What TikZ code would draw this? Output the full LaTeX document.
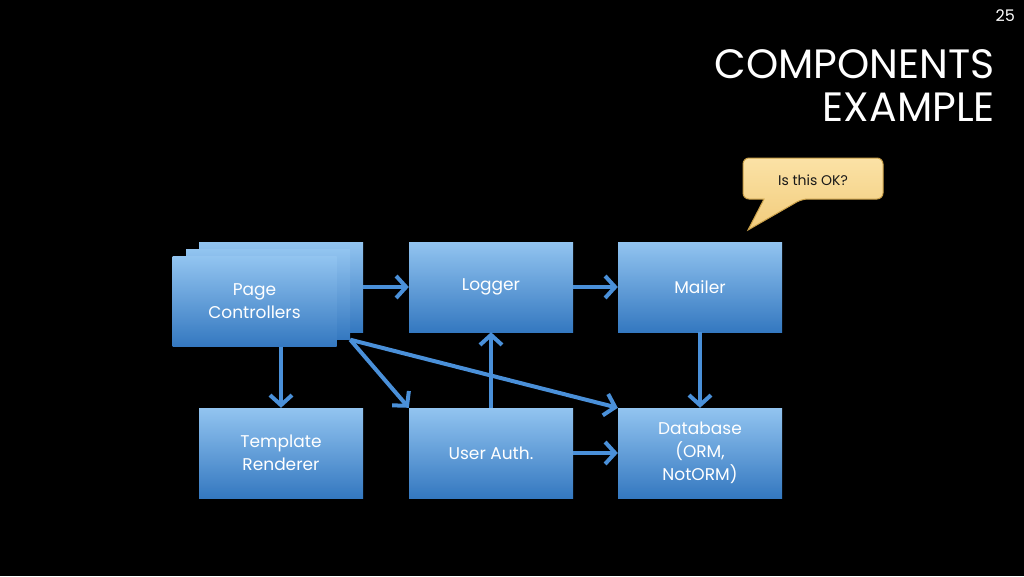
\documentclass[tikz,border=0pt]{standalone}
\usepackage{fontspec}
\setmainfont{Poppins}
\usetikzlibrary{arrows.meta}
\definecolor{arr}{HTML}{4A90D9}
\definecolor{boxtop}{HTML}{92C4F0}
\definecolor{boxbot}{HTML}{3478C0}
\definecolor{calltop}{HTML}{FBE2A6}
\definecolor{callbot}{HTML}{F2CC7C}
\definecolor{callbd}{HTML}{C9A04A}
\tikzset{
  box/.style={minimum width=164pt, minimum height=90pt, inner sep=0pt,
    top color=boxtop, bottom color=boxbot, text=white, align=center,
    font=\fontsize{17}{23}\selectfont},
  conn/.style={draw=arr, line width=4pt,
    -{Straight Barb[length=10pt,width=22pt,line width=4pt]}},
}
\begin{document}
\begin{tikzpicture}[x=1pt,y=-1pt]
\fill[black] (0,0) rectangle (1024,576);
\useasboundingbox (0,0) rectangle (1024,576);

% title
\node[anchor=base east, text=white, font=\fontsize{16}{18}\selectfont, inner sep=0pt] (num) at (1015,21) {25};
\node[anchor=base east, text=white, font=\fontsize{41}{46}\selectfont, inner sep=0pt] (t1) at (995,78) {COMPONENTS};
\node[anchor=base east, text=white, font=\fontsize{41}{46}\selectfont, inner sep=0pt] (t2) at (995,121) {EXAMPLE};

% callout
\path[draw=callbd, line width=1pt, top color=calltop, bottom color=callbot]
  (813,158) [rounded corners=6pt] -- (883,158) -- (883,199) -- (802,199)
  [sharp corners] -- (748,230) -- (764,199)
  [rounded corners=6pt] -- (743,199) -- (743,158) -- cycle;
\node[font=\fontsize{14}{16}\selectfont, text=black!90] (call) at (813,180) {Is this OK?};

% page controllers stack
\node[box] (pcb) at (281,287) {};
\node[box] (pcm) at (268,294.5) {};
\node[box] (pcf) at (254.5,301.5) {Page\\Controllers};

\node[box] (log) at (491,287) {Logger};
\node[box] (mail) at (700,287) {Mailer};
\node[box] (tr) at (281,453) {Template\\Renderer};
\node[box] (ua) at (491,453) {User Auth.};
\node[box] (db) at (700,453) {Database\\(ORM,\\NotORM)};

% connectors
\draw[conn] (pcb.east) -- (log.west);
\draw[conn] (log.east) -- (mail.west);
\draw[conn] (tr.north |- pcf.south) -- (tr.north);
\draw[conn] (pcm.south east) -- (ua.north west);
\draw[conn] (pcm.south east) -- (db.north west);
\draw[conn] (ua.north) -- (log.south);
\draw[conn] (mail.south) -- (db.north);
\draw[conn] (ua.east) -- (db.west);
\end{tikzpicture}
\end{document}
